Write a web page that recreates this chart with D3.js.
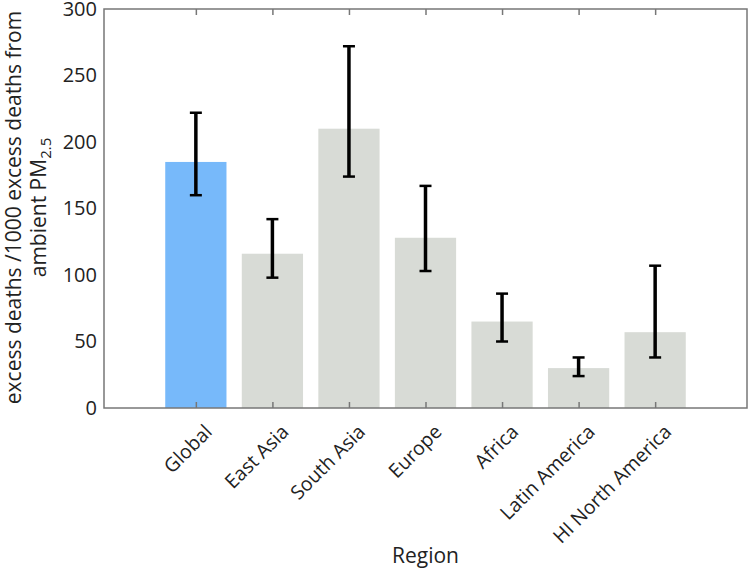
<!DOCTYPE html>
<html>
<head>
<meta charset="utf-8">
<script src="https://cdn.jsdelivr.net/npm/d3@7"></script>
<style>
  body { margin: 0; background: #fff; }
  svg text { font-family: "Open Sans", "Noto Sans", sans-serif; }
</style>
</head>
<body>
<svg id="chart" width="750" height="570"></svg>
<script>
const regions = ['Global', 'East Asia', 'South Asia', 'Europe', 'Africa', 'Latin America', 'HI North America'];
const values = [185, 116, 210, 128, 65, 30, 57];
const errLow = [160, 98, 174, 103, 50, 24, 38];
const errHigh = [222, 142, 272, 167, 86, 38, 107];
const yTicks = [0, 50, 100, 150, 200, 250, 300];

const svg = d3.select('#chart');
const plotLeft = 104, plotTop = 9, plotRight = 747, plotBottom = 408;
const font = '"Open Sans", "Noto Sans", sans-serif';

// categories sit at 1..7, axis limits like matlab [-0.2, 8.2]
const x = d3.scaleLinear().domain([-0.2, 8.2]).range([plotLeft, plotRight]);
const y = d3.scaleLinear().domain([0, 300]).range([plotBottom, plotTop]);
const barW = (x(1) - x(0)) * 0.8;

const data = regions.map((r, i) => ({ region: r, idx: i + 1, value: values[i], lo: errLow[i], hi: errHigh[i] }));

// bars
svg.selectAll('.bar')
  .data(data)
  .enter()
  .append('rect')
  .attr('class', 'bar')
  .attr('x', d => x(d.idx) - barW / 2)
  .attr('y', d => y(d.value))
  .attr('width', barW)
  .attr('height', d => y(0) - y(d.value))
  .attr('fill', d => d.region === 'Global' ? '#77b9fa' : '#d8dbd6');

// error bars
const eb = svg.selectAll('.err').data(data).enter().append('g').attr('class', 'err')
  .attr('stroke', '#000').attr('stroke-width', 3.5);
eb.append('line')
  .attr('x1', d => x(d.idx)).attr('x2', d => x(d.idx))
  .attr('y1', d => y(d.lo)).attr('y2', d => y(d.hi));
eb.append('line')
  .attr('x1', d => x(d.idx) - 6).attr('x2', d => x(d.idx) + 6)
  .attr('y1', d => y(d.hi)).attr('y2', d => y(d.hi)).attr('stroke-width', 2.5);
eb.append('line')
  .attr('x1', d => x(d.idx) - 6).attr('x2', d => x(d.idx) + 6)
  .attr('y1', d => y(d.lo)).attr('y2', d => y(d.lo)).attr('stroke-width', 2.5);

// box
svg.append('rect')
  .attr('x', plotLeft).attr('y', plotTop)
  .attr('width', plotRight - plotLeft).attr('height', plotBottom - plotTop)
  .attr('fill', 'none').attr('stroke', '#777').attr('stroke-width', 1.5);

// bottom axis, ticks inside
const xAxis = svg.append('g')
  .attr('transform', `translate(0,${plotBottom})`)
  .call(d3.axisBottom(x).tickValues(d3.range(1, 8)).tickSize(-6).tickFormat(i => regions[i - 1]));
xAxis.attr('font-family', font);
xAxis.select('.domain').remove();
xAxis.selectAll('.tick line').attr('stroke', '#777').attr('stroke-width', 1.5);
xAxis.selectAll('.tick text')
  .attr('font-size', 19.5).attr('fill', '#222')
  .attr('text-anchor', 'end')
  .attr('dy', 0).attr('y', 0)
  .attr('transform', 'translate(17,25) rotate(-45)');

// top axis mirror ticks
const xTop = svg.append('g')
  .attr('transform', `translate(0,${plotTop})`)
  .call(d3.axisTop(x).tickValues(d3.range(1, 8)).tickSize(-6).tickFormat(''));
xTop.select('.domain').remove();
xTop.selectAll('.tick line').attr('stroke', '#777').attr('stroke-width', 1.5);

// left axis
const yAxis = svg.append('g')
  .attr('transform', `translate(${plotLeft},0)`)
  .call(d3.axisLeft(y).tickValues(yTicks).tickSize(0).tickPadding(7));
yAxis.attr('font-family', font);
yAxis.select('.domain').remove();
yAxis.selectAll('.tick text').attr('font-size', 20).attr('fill', '#222');

// axis titles
svg.append('text')
  .attr('x', (plotLeft + plotRight) / 2).attr('y', 563)
  .attr('text-anchor', 'middle').attr('font-size', 21).attr('fill', '#222')
  .text('Region');

const yl = svg.append('text')
  .attr('transform', `translate(21,${(plotTop + plotBottom) / 2 - 1}) rotate(-90)`)
  .attr('text-anchor', 'middle').attr('font-size', 21).attr('fill', '#222');
yl.append('tspan').attr('x', 0).attr('y', 0).text('excess deaths /1000 excess deaths from');
yl.append('tspan').attr('x', 0).attr('y', 25).text('ambient PM');
yl.append('tspan').attr('font-size', 15).attr('dy', 5).text('2.5');
</script>
</body>
</html>
